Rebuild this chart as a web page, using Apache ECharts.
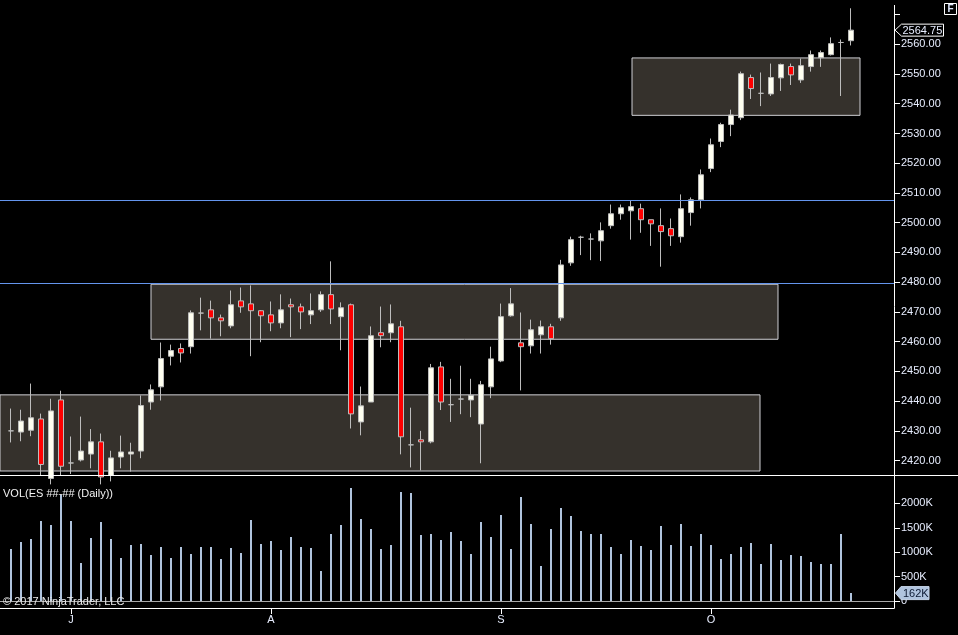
<!DOCTYPE html>
<html>
<head>
<meta charset="utf-8">
<script src="https://cdn.jsdelivr.net/npm/echarts@6/dist/echarts.min.js"></script>
<style>
html,body{margin:0;padding:0;background:#000;}
#c{width:958px;height:635px;}
</style>
</head>
<body>
<div id="c"></div>
<script>
// ---- data ----
const opens  = [2430.0,2429.6,2430.2,2434.0,2414.0,2440.4,2419.2,2420.2,2422.2,2426.3,
                2415.0,2421.2,2422.2,2423.2,2439.7,2444.8,2455.1,2457.7,2458.3,2469.6,
                2470.7,2468.0,2465.3,2473.7,2472.7,2470.4,2469.0,2466.3,2472.4,2471.7,
                2469.0,2470.7,2475.8,2468.4,2472.4,2433.0,2439.7,2463.0,2463.0,2465.0,
                2425.3,2427.0,2426.3,2451.5,2438.8,2440.7,2440.4,2432.3,2444.8,2453.5,
                2468.7,2459.6,2458.6,2462.3,2465.0,2468.0,2486.5,2495.1,2494.5,2493.9,
                2499.0,2503.0,2504.0,2504.7,2501.0,2499.0,2498.0,2495.3,2503.4,2507.7,
                2518.2,2527.3,2533.0,2535.3,2548.8,2543.5,2543.3,2548.7,2552.5,2548.0,
                2552.5,2555.5,2556.5,2560.6,2561.2];
const closes = [2430.0,2433.3,2434.4,2418.7,2436.7,2418.1,2419.2,2423.2,2426.3,2414.5,
                2420.9,2422.9,2422.9,2438.5,2443.8,2454.3,2457.0,2456.2,2469.7,2469.6,
                2468.0,2467.0,2472.4,2471.7,2470.4,2468.7,2466.3,2470.7,2471.7,2470.0,
                2470.4,2475.8,2471.0,2471.4,2435.7,2438.4,2462.0,2462.0,2466.0,2428.0,
                2425.3,2426.3,2451.2,2439.7,2438.8,2440.7,2441.9,2445.5,2454.2,2468.4,
                2472.7,2458.3,2464.0,2465.0,2461.0,2485.8,2494.3,2495.1,2494.5,2497.3,
                2503.0,2505.0,2505.4,2501.0,2499.6,2497.0,2495.6,2504.7,2507.7,2516.1,
                2526.2,2533.0,2536.2,2550.1,2545.1,2543.5,2548.8,2553.2,2549.7,2552.8,
                2556.5,2557.2,2560.2,2560.6,2564.75];
const lows   = [2426.1,2426.5,2428.2,2415.0,2412.0,2415.0,2415.5,2419.7,2417.4,2412.0,
                2413.0,2417.4,2416.3,2420.8,2437.1,2440.2,2452.0,2453.0,2456.0,2463.8,
                2461.0,2461.8,2464.5,2469.7,2455.1,2459.8,2463.5,2464.5,2461.5,2464.2,
                2465.9,2470.0,2465.9,2457.1,2430.8,2428.5,2439.7,2458.1,2459.8,2422.1,
                2417.7,2416.7,2425.8,2437.0,2433.0,2435.6,2434.6,2419.1,2441.0,2453.1,
                2468.4,2443.6,2456.0,2456.0,2459.0,2467.0,2485.5,2489.1,2487.4,2487.1,
                2498.0,2501.0,2494.3,2496.6,2492.2,2485.2,2492.2,2493.3,2499.0,2504.8,
                2517.0,2525.4,2529.1,2534.5,2541.6,2539.2,2542.6,2544.3,2546.3,2547.0,
                2550.8,2552.4,2556.2,2542.6,2559.6];
const highs  = [2437.5,2437.1,2445.9,2435.8,2440.8,2443.5,2428.1,2434.8,2430.6,2429.1,
                2423.3,2428.4,2426.0,2441.9,2445.6,2459.7,2459.0,2459.4,2470.5,2474.8,
                2473.8,2469.1,2477.2,2478.2,2478.9,2470.6,2473.5,2475.9,2474.5,2472.8,
                2476.2,2476.9,2487.0,2473.2,2472.8,2444.9,2465.1,2471.8,2472.5,2467.0,
                2437.8,2430.0,2452.5,2453.2,2447.5,2451.9,2447.5,2446.8,2458.3,2472.8,
                2478.0,2469.8,2467.4,2467.1,2466.0,2487.5,2495.3,2495.6,2496.4,2500.1,
                2506.1,2506.1,2507.4,2506.4,2501.0,2504.8,2501.4,2509.5,2508.5,2517.9,
                2528.3,2533.6,2538.0,2550.8,2549.8,2550.5,2553.5,2553.5,2553.5,2555.2,
                2557.9,2557.9,2562.3,2561.6,2572.1];
const volumesK = [1067,1210,1272,1641,1559,2170,1641,779,1292,1620,
                  1272,882,1149,1169,943,1108,882,1108,964,1108,
                  1108,861,1087,985,1661,1169,1231,1046,1313,1108,
                  1087,615,1374,1559,2318,1682,1477,1067,1149,2236,
                  2215,1354,1374,1251,1415,1231,964,1620,1313,1764,
                  1067,2133,1579,718,1477,1907,1743,1436,1374,1374,
                  1108,964,1251,1128,1046,1538,1149,1579,1128,1374,
                  1149,861,964,1108,1190,759,1169,841,943,923,
                  800,759,759,1374,162];
const monthTickIdx = [6, 26, 49, 70];
const monthLabels  = ['J', 'A', 'S', 'O'];
const priceTicks   = [2420,2430,2440,2450,2460,2470,2480,2490,2500,2510,2520,2530,2540,2550,2560,2570];
const priceLabels  = [2420,2430,2440,2450,2460,2470,2480,2490,2500,2510,2520,2530,2540,2550,2560];
const volTicks     = [0, 500, 1000, 1500, 2000];
// zones: [fromIndex, toIndex, lowPrice, highPrice]
const zoneFrom = [-1.1, 14.0, 62.1];
const zoneTo   = [74.9, 76.7, 84.9];
const zoneLow  = [2416.5, 2460.8, 2536.1];
const zoneHigh = [2442.1, 2479.3, 2555.4];
const levels   = [2507.45, 2479.55];
const lastPrice = 2564.75;
const lastVolumeK = 162;

// ---- build ----
const FONT = "'Liberation Sans', Arial, sans-serif";
const TXT = '#e8eeff';
const candleData = opens.map((o, i) => [i, o, closes[i], lows[i], highs[i]]);
const volData = volumesK.map((v, i) => [i, v]);
const zoneData = zoneFrom.map((f, k) => [
  { xAxis: f, yAxis: zoneHigh[k] },
  { xAxis: zoneTo[k], yAxis: zoneLow[k] }
]);
const X_MIN = -1.1, X_MAX = 88.3;

const chart = echarts.init(document.getElementById('c'), null, { renderer: 'canvas' });
const option = {
  backgroundColor: '#000',
  animation: false,
  grid: [
    { left: 0, right: 64, top: 5, height: 466 },
    { left: 0, right: 64, top: 479, height: 122 }
  ],
  xAxis: [
    { gridIndex: 0, type: 'value', min: X_MIN, max: X_MAX, show: false,
      axisLine: { onZero: false } },
    { gridIndex: 1, type: 'value', min: X_MIN, max: X_MAX,
      axisLine: { show: true, onZero: false, lineStyle: { color: '#a8a8a8', width: 1 } },
      axisTick: { show: false }, axisLabel: { show: false }, splitLine: { show: false } },
    { gridIndex: 1, type: 'value', min: X_MIN, max: X_MAX, offset: 7, position: 'bottom',
      axisLine: { show: true, onZero: false, lineStyle: { color: '#ffffff', width: 1 } },
      axisTick: { show: true, customValues: monthTickIdx, length: 6, lineStyle: { color: '#ffffff' } },
      axisLabel: { show: true, customValues: monthTickIdx, margin: 6,
        formatter: v => monthLabels[monthTickIdx.indexOf(Math.round(v))] || '',
        color: TXT, fontSize: 11, fontFamily: FONT },
      splitLine: { show: false } }
  ],
  yAxis: [
    { gridIndex: 0, type: 'value', position: 'right', min: 2416.5, max: 2573.2,
      axisLine: { show: false, onZero: false },
      axisTick: { show: true, customValues: priceTicks, length: 6, lineStyle: { color: '#ffffff' } },
      axisLabel: { show: true, customValues: priceLabels, margin: 7,
        formatter: v => Number(v).toFixed(2), color: TXT, fontSize: 11, fontFamily: FONT },
      splitLine: { show: false } },
    { gridIndex: 1, type: 'value', position: 'right', min: 0, max: 2500,
      axisLine: { show: false, onZero: false },
      axisTick: { show: true, customValues: volTicks, length: 6, lineStyle: { color: '#ffffff' } },
      axisLabel: { show: true, customValues: volTicks, margin: 7,
        formatter: v => v === 0 ? '0' : v + 'K', color: TXT, fontSize: 11, fontFamily: FONT },
      splitLine: { show: false } }
  ],
  series: [
    {
      type: 'candlestick', xAxisIndex: 0, yAxisIndex: 0, data: candleData,
      barWidth: 6, z: 3,
      encode: { x: 0, y: [1, 2, 3, 4] },
      itemStyle: {
        color: '#fffff0', color0: '#ff0000',
        borderColor: '#bdbdbd', borderColor0: '#bdbdbd', borderColorDoji: '#bdbdbd',
        borderWidth: 1
      },
      markArea: {
        silent: true, z: 1,
        itemStyle: { color: '#35312c', borderColor: '#cfcfd4', borderWidth: 1, opacity: 1 },
        label: { show: false },
        data: zoneData
      },
      markLine: {
        silent: true, symbol: 'none', z: 4,
        label: { show: false },
        lineStyle: { color: '#6495ed', width: 1, type: 'solid' },
        data: levels.map(v => ({ yAxis: v }))
      }
    },
    {
      type: 'bar', xAxisIndex: 1, yAxisIndex: 1, data: volData,
      barWidth: 2, itemStyle: { color: '#b0c4de' }, z: 2
    }
  ]
};
chart.setOption(option);

const yLast = chart.convertToPixel({ yAxisIndex: 0 }, lastPrice);
const yVol = chart.convertToPixel({ yAxisIndex: 1 }, lastVolumeK);
chart.setOption({
  graphic: [
    { type: 'line', z: 50, shape: { x1: 0, y1: 475.5, x2: 958, y2: 475.5 }, style: { stroke: '#ffffff', lineWidth: 1.2 } },
    { type: 'line', z: 50, shape: { x1: 894.5, y1: 5, x2: 894.5, y2: 608.5 }, style: { stroke: '#ffffff', lineWidth: 1 } },
    { type: 'rect', z: 50, shape: { x: 944.5, y: 3.5, width: 12, height: 11 }, style: { stroke: '#ffffff', fill: '#000', lineWidth: 1 } },
    { type: 'text', z: 51, style: { text: 'F', x: 950.5, y: 9.5, align: 'center', verticalAlign: 'middle', fill: '#dfe8ff', font: 'bold 10px ' + FONT } },
    { type: 'text', z: 51, style: { text: 'VOL(ES ##-## (Daily))', x: 3, y: 494, verticalAlign: 'middle', fill: '#f2f2f2', font: '11px ' + FONT } },
    { type: 'text', z: 51, style: { text: '\u00a9 2017 NinjaTrader, LLC', x: 3, y: 602, verticalAlign: 'middle', fill: '#e8e8e8', font: '11px ' + FONT } },
    { type: 'polygon', z: 60, shape: { points: [[895, yLast], [901.5, yLast - 6], [943.5, yLast - 6], [943.5, yLast + 6], [901.5, yLast + 6]] },
      style: { stroke: '#ffffff', fill: '#000000', lineWidth: 1 } },
    { type: 'text', z: 61, style: { text: lastPrice.toFixed(2), x: 902.5, y: yLast + 0.5, verticalAlign: 'middle', fill: TXT, font: '11px ' + FONT } },
    { type: 'polygon', z: 60, shape: { points: [[895.5, yVol], [901, yVol - 6.5], [929, yVol - 6.5], [929, yVol + 6.5], [901, yVol + 6.5]] },
      style: { stroke: '#c6d4e8', fill: '#b0c4de', lineWidth: 1 } },
    { type: 'text', z: 61, style: { text: lastVolumeK + 'K', x: 903, y: yVol + 0.5, verticalAlign: 'middle', fill: '#0d1a33', font: '11px ' + FONT } }
  ]
});
</script>
</body>
</html>
